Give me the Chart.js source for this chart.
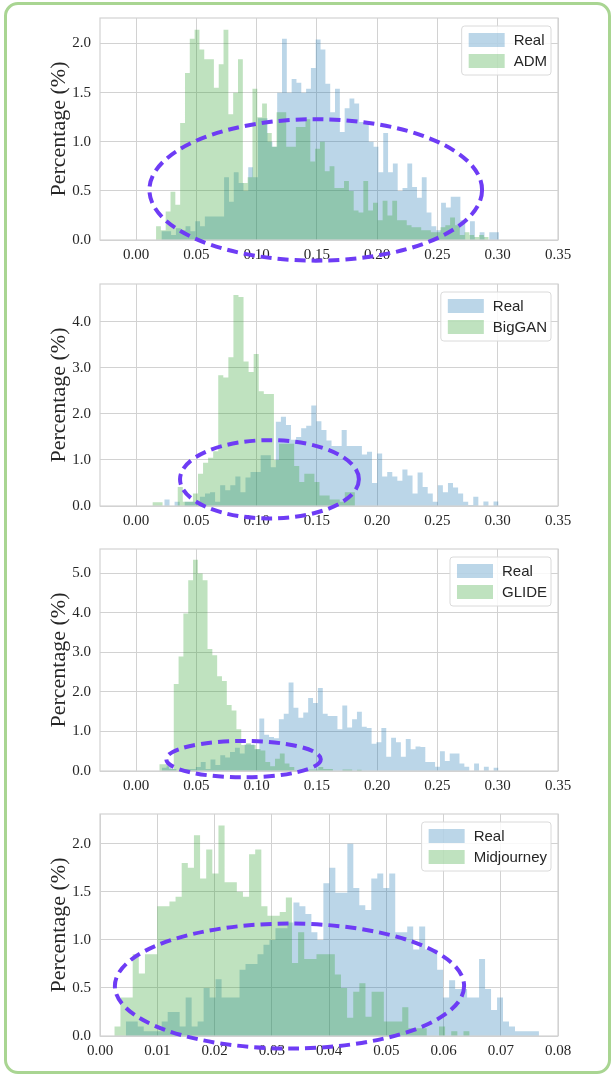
<!DOCTYPE html>
<html>
<head>
<meta charset="utf-8">
<script src="https://cdn.jsdelivr.net/npm/chart.js@4.4.1/dist/chart.umd.min.js"></script>
<style>
  html, body { margin: 0; padding: 0; background: #fff; }
  #frame { position: absolute; left: 4px; top: 2px; width: 601px; height: 1066px;
           border: 3px solid #a9d592; border-radius: 14px; }
  .panel { position: absolute; left: 0; width: 615px; height: 265px; }
</style>
</head>
<body>
<div id="frame"></div>
<div class="panel" style="top:0px"><canvas id="p0"></canvas></div>
<div class="panel" style="top:266px"><canvas id="p1"></canvas></div>
<div class="panel" style="top:531px"><canvas id="p2"></canvas></div>
<div class="panel" style="top:796px"><canvas id="p3"></canvas></div>
<script>
// Histogram data: percentage of images per bin.
// Each series: first bin edge, bin width, bin heights (%).

// Panel 1 - Real vs ADM
const realAdmStart = 0.021, realAdmBin = 0.004;
const realAdmPct = [0.09, 0.09, 0.05, 0.12, 0.10, 0.14, 0.09, 0.19, 0.14, 0.24,
  0.24, 0.24, 0.24, 0.64, 0.39, 0.69, 0.58, 0.50, 0.74, 0.64,
  1.24, 1.24, 1.00, 0.95, 1.50, 2.05, 1.50, 1.64, 1.60, 1.50,
  1.54, 1.75, 2.04, 1.94, 1.59, 1.30, 1.54, 1.10, 1.34, 1.44,
  1.39, 1.20, 1.20, 1.00, 0.95, 0.69, 1.09, 0.69, 0.78, 0.50,
  0.53, 0.78, 0.54, 0.43, 0.64, 0.28, 0.14, 0.10, 0.38, 0.33,
  0.44, 0.44, 0.20, 0.00, 0.19, 0.00, 0.08, 0.00, 0.08, 0.08];
const admStart = 0.0165, admBin = 0.004;
const admPct = [0.14, 0.10, 0.29, 0.49, 0.36, 1.19, 1.70, 2.05, 2.14, 1.94,
  1.84, 1.84, 1.55, 1.79, 2.14, 1.28, 1.50, 1.84, 0.58, 0.64,
  1.54, 1.25, 1.39, 1.09, 0.95, 1.30, 1.30, 0.95, 0.95, 1.15,
  1.15, 1.23, 0.80, 0.93, 1.00, 0.70, 0.75, 0.53, 0.53, 0.60,
  0.50, 0.30, 0.28, 0.60, 0.30, 0.38, 0.20, 0.40, 0.25, 0.40,
  0.20, 0.20, 0.15, 0.13, 0.13, 0.10, 0.10, 0.08, 0.08, 0.13,
  0.15, 0.23, 0.15, 0.05, 0.08, 0.05, 0.03, 0.05, 0.03];

// Panel 2 - Real vs BigGAN
const realBigganStart = 0.0193, realBigganBin = 0.0042;
const realBigganPct = [0.00, 0.14, 0.00, 0.09, 0.00, 0.09, 0.09, 0.05, 0.20, 0.27,
  0.30, 0.09, 0.45, 0.34, 0.45, 0.64, 0.30, 0.62, 0.74, 0.74,
  1.10, 1.10, 0.84, 1.83, 1.94, 1.76, 1.44, 1.50, 1.69, 1.74,
  2.18, 1.84, 1.65, 1.42, 1.30, 1.30, 1.65, 1.30, 1.30, 1.30,
  1.12, 1.18, 0.50, 1.14, 0.64, 0.74, 0.64, 0.55, 0.79, 0.66,
  0.27, 0.73, 0.41, 0.27, 0.09, 0.45, 0.30, 0.50, 0.40, 0.27,
  0.09, 0.02, 0.20, 0.00, 0.10, 0.00, 0.10];
const bigganStart = 0.0135, bigganBin = 0.0042;
const bigganPct = [0.08, 0.08, 0.00, 0.00, 0.00, 0.41, 0.09, 0.09, 0.27, 0.70,
  0.94, 1.05, 1.19, 2.84, 2.79, 3.23, 4.58, 4.54, 3.14, 2.91,
  3.30, 2.49, 2.43, 2.43, 1.00, 1.35, 1.35, 1.35, 0.87, 0.52,
  0.70, 0.70, 0.52, 0.23, 0.23, 0.14, 0.14, 0.09, 0.30, 0.30];

// Panel 3 - Real vs GLIDE
const realGlideStart = 0.0212, realGlideBin = 0.00405;
const realGlidePct = [0.08, 0.12, 0.05, 0.00, 0.05, 0.05, 0.05, 0.10, 0.23, 0.05,
  0.29, 0.15, 0.40, 0.34, 0.48, 0.59, 0.44, 0.67, 0.67, 0.55,
  1.33, 0.92, 0.86, 0.83, 1.31, 1.45, 2.24, 1.60, 1.35, 1.48,
  1.85, 1.72, 2.10, 1.45, 1.39, 1.39, 1.06, 1.66, 1.10, 1.31,
  1.50, 1.12, 1.09, 0.69, 0.73, 1.09, 0.36, 0.84, 0.73, 0.36,
  0.81, 0.55, 0.62, 0.61, 0.23, 0.23, 0.11, 0.50, 0.25, 0.44,
  0.44, 0.19, 0.11, 0.00, 0.19, 0.00, 0.11, 0.00, 0.08];
const glideStart = 0.0192, glideBin = 0.004;
const glidePct = [0.17, 0.17, 0.06, 2.20, 2.90, 3.99, 4.83, 5.35, 5.00, 4.83,
  3.09, 2.93, 2.40, 2.28, 1.67, 1.53, 1.06, 0.66, 0.70, 0.66,
  0.56, 0.52, 0.23, 0.12, 0.31, 0.44, 0.19, 0.10, 0.02, 0.00,
  0.00, 0.04, 0.04, 0.10, 0.05, 0.05, 0.00, 0.00, 0.04, 0.04,
  0.00, 0.03];

// Panel 4 - Real vs Midjourney
const realMjStart = 0.0045, realMjBin = 0.001046;
const realMjPct = [0.15, 0.15, 0.10, 0.05, 0.05, 0.05, 0.15, 0.25, 0.25, 0.10,
  0.40, 0.10, 0.15, 0.50, 0.40, 0.59, 0.40, 0.40, 0.40, 0.69,
  0.75, 0.75, 0.85, 0.95, 1.00, 1.12, 1.12, 1.18, 1.39, 1.35,
  1.27, 1.08, 1.00, 1.59, 1.75, 1.49, 1.49, 2.00, 1.54, 1.36,
  1.31, 1.64, 1.69, 1.54, 1.69, 1.08, 1.08, 1.14, 0.90, 1.14,
  0.90, 0.90, 0.69, 0.40, 0.58, 0.49, 0.49, 0.40, 0.40, 0.80,
  0.49, 0.27, 0.40, 0.15, 0.10, 0.05, 0.05, 0.05, 0.05];
const mjStart = 0.0025, mjBin = 0.00107;
const mjPct = [0.10, 0.40, 0.40, 0.85, 0.65, 0.85, 0.85, 1.35, 1.35, 1.40,
  1.45, 1.80, 1.75, 2.09, 1.64, 1.94, 1.69, 2.19, 1.60, 1.60,
  1.50, 1.45, 1.89, 1.94, 1.35, 1.25, 1.25, 1.29, 1.44, 0.76,
  1.08, 0.80, 0.80, 0.85, 0.85, 0.85, 0.64, 0.50, 0.19, 0.46,
  0.55, 0.20, 0.46, 0.46, 0.15, 0.15, 0.15, 0.30, 0.08, 0.08,
  0.08, 0.00, 0.00, 0.10, 0.00, 0.05, 0.00, 0.05];

const SERIF = '"Liberation Serif", "Times New Roman", serif';
const SANS = '"Liberation Sans", Arial, sans-serif';
const BLUE = 'rgba(31, 119, 180, 0.3)';
const GREEN = 'rgba(44, 160, 44, 0.3)';
const GRID = '#d2d2d2';
const TEXT = '#262626';
const PURPLE = '#6e3cf5';

// bin heights -> step outline points (left edge of each bin, closed at the last edge)
function toSteps(start, width, pct) {
  const pts = pct.map((v, i) => ({ x: start + i * width, y: v }));
  pts.push({ x: start + pct.length * width, y: 0 });
  return pts;
}

// light grey box round the plot area
const plotFrame = {
  id: 'plotFrame',
  afterDatasetsDraw(chart) {
    const { ctx, chartArea: a } = chart;
    ctx.save();
    ctx.strokeStyle = GRID;
    ctx.lineWidth = 1.2;
    ctx.strokeRect(a.left, a.top, a.right - a.left, a.bottom - a.top);
    ctx.restore();
  }
};

// legend box in the top right corner of the plot
const cornerLegend = {
  id: 'cornerLegend',
  afterDraw(chart) {
    const { ctx, chartArea: a } = chart;
    const items = chart.data.datasets;
    ctx.save();
    ctx.font = '15px ' + SANS;
    const textW = Math.max(...items.map(d => ctx.measureText(d.label).width));
    const w = 7 + 36 + 9 + textW + 4;
    const h = 49;
    const x = a.right - 7 - w;
    const y = a.top + 8;
    ctx.beginPath();
    ctx.roundRect(x, y, w, h, 3);
    ctx.fillStyle = 'rgba(255,255,255,0.85)';
    ctx.fill();
    ctx.strokeStyle = '#dadada';
    ctx.lineWidth = 1;
    ctx.stroke();
    items.forEach((d, i) => {
      const ry = y + 7 + i * 21;
      ctx.fillStyle = d.backgroundColor;
      ctx.fillRect(x + 7, ry, 36, 14);
      ctx.fillStyle = TEXT;
      ctx.textBaseline = 'middle';
      ctx.fillText(d.label, x + 52, ry + 8);
    });
    ctx.restore();
  }
};

// dashed purple ellipse marking the overlap region (given in data units)
const overlapRing = {
  id: 'overlapRing',
  afterDraw(chart, args, opts) {
    const { ctx, scales: { x, y } } = chart;
    const cx = x.getPixelForValue(opts.cx);
    const cy = y.getPixelForValue(opts.cy);
    const rx = Math.abs(x.getPixelForValue(opts.cx + opts.rx) - cx);
    const ry = Math.abs(y.getPixelForValue(opts.cy + opts.ry) - cy);
    ctx.save();
    ctx.strokeStyle = PURPLE;
    ctx.lineWidth = 4;
    ctx.setLineDash([11, 6]);
    ctx.beginPath();
    ctx.ellipse(cx, cy, rx, ry, 0, 0, Math.PI * 2);
    ctx.stroke();
    ctx.restore();
  }
};

const panels = [
  { id: 'p0', name: 'ADM',
    real: toSteps(realAdmStart, realAdmBin, realAdmPct), fake: toSteps(admStart, admBin, admPct),
    xMin: -0.03, xMax: 0.35, xStep: 0.05, yMax: 2.26, yStep: 0.5,
    ring: { cx: 0.149, cy: 0.51, rx: 0.138, ry: 0.72 } },
  { id: 'p1', name: 'BigGAN',
    real: toSteps(realBigganStart, realBigganBin, realBigganPct), fake: toSteps(bigganStart, bigganBin, bigganPct),
    xMin: -0.03, xMax: 0.35, xStep: 0.05, yMax: 4.82, yStep: 1,
    ring: { cx: 0.1106, cy: 0.58, rx: 0.0742, ry: 0.85 } },
  { id: 'p2', name: 'GLIDE',
    real: toSteps(realGlideStart, realGlideBin, realGlidePct), fake: toSteps(glideStart, glideBin, glidePct),
    xMin: -0.03, xMax: 0.35, xStep: 0.05, yMax: 5.62, yStep: 1,
    ring: { cx: 0.0891, cy: 0.30, rx: 0.0641, ry: 0.46 } },
  { id: 'p3', name: 'Midjourney',
    real: toSteps(realMjStart, realMjBin, realMjPct), fake: toSteps(mjStart, mjBin, mjPct),
    xMin: 0, xMax: 0.08, xStep: 0.01, yMax: 2.31, yStep: 0.5,
    ring: { cx: 0.0331, cy: 0.52, rx: 0.0305, ry: 0.65 } }
];

panels.forEach(p => {
  new Chart(document.getElementById(p.id), {
    type: 'line',
    data: {
      datasets: [
        { label: 'Real', data: p.real, order: 2, backgroundColor: BLUE },
        { label: p.name, data: p.fake, order: 1, backgroundColor: GREEN }
      ]
    },
    options: {
      responsive: true,
      maintainAspectRatio: false,
      animation: false,
      devicePixelRatio: 1,
      layout: { padding: { top: 14, right: 57, left: 0, bottom: 0 } },
      elements: {
        line: { stepped: true, fill: 'origin', borderWidth: 0, borderColor: 'rgba(0,0,0,0)' },
        point: { radius: 0, hoverRadius: 0 }
      },
      plugins: {
        legend: { display: false },
        tooltip: { enabled: false },
        overlapRing: p.ring
      },
      scales: {
        x: {
          type: 'linear', min: p.xMin, max: p.xMax,
          grid: { color: GRID, drawTicks: false },
          border: { display: false },
          ticks: {
            stepSize: p.xStep, includeBounds: false, autoSkip: false, maxRotation: 0,
            padding: 6, color: TEXT, font: { family: SERIF, size: 15 },
            callback: v => v.toFixed(2)
          },
          afterFit: s => { s.height = 25; }
        },
        y: {
          min: 0, max: p.yMax,
          grid: { color: GRID, drawTicks: false },
          border: { display: false },
          ticks: {
            stepSize: p.yStep, includeBounds: false,
            padding: 9, color: TEXT, font: { family: SERIF, size: 15 },
            callback: v => v.toFixed(1)
          },
          title: {
            display: true, text: 'Percentage (%)', color: TEXT,
            font: { family: SERIF, size: 22 }, padding: { top: 46, bottom: 0 }
          },
          afterFit: s => { s.width = 100; }
        }
      }
    },
    plugins: [plotFrame, cornerLegend, overlapRing]
  });
});
</script>
</body>
</html>
